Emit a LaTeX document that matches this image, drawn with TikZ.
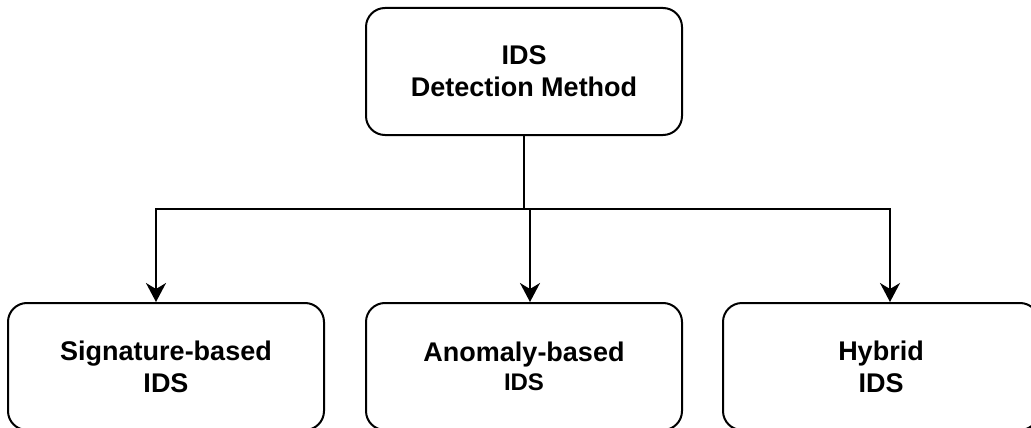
\documentclass[tikz,border=0pt]{standalone}
\usepackage{fontspec}
\setmainfont{Liberation Sans}
\usetikzlibrary{arrows.meta,positioning}
\begin{document}
\begin{tikzpicture}[x=1pt,y=-1pt,
  box/.style={draw,line width=2pt,rounded corners=19pt,minimum width=316pt,minimum height=127pt,inner sep=0pt,align=center,font=\fontsize{27}{32}\selectfont\bfseries},
  link/.style={line width=2pt,-{Stealth[length=19pt,width=20pt,inset=6pt]}}]
\useasboundingbox (0,0) rectangle (1031,428);
\node [box] (idsm) at (524,71.5) {IDS\\Detection Method};
\node [box] (sig) at (166,366.5) {Signature-based\\IDS};
\node [box] (ano) at (524,366.5) {Anomaly-based\\[-3pt]{\fontsize{24}{29}\selectfont IDS}};
\node [box] (hyb) at (881,366.5) {Hybrid\\IDS};
\draw [link] (idsm.south) -- ++(0,73) -| ([xshift=-10pt]sig.north);
\draw [link] (idsm.south) -- ++(0,73) -| ([xshift=6pt]ano.north);
\draw [link] (idsm.south) -- ++(0,73) -| ([xshift=9pt]hyb.north);
\end{tikzpicture}
\end{document}
